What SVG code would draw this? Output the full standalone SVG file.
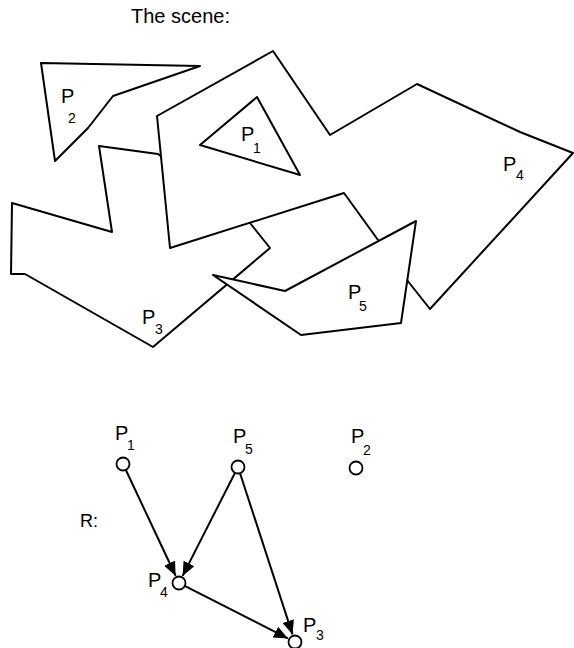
<svg xmlns="http://www.w3.org/2000/svg" width="574" height="648" viewBox="0 0 574 648">
<style>
.poly{fill:#fff;stroke:#000;stroke-width:2;stroke-linejoin:round}
.t{font-family:"Liberation Sans",Arial,sans-serif;font-size:20px;fill:#000}
.s{font-family:"Liberation Sans",Arial,sans-serif;font-size:14px;fill:#000}
.node{fill:#fff;stroke:#000;stroke-width:1.8}
.edge{stroke:#000;stroke-width:2;fill:none;marker-end:url(#ah)}
</style>
<defs>
<marker id="ah" markerUnits="userSpaceOnUse" markerWidth="14" markerHeight="12" refX="14" refY="6" orient="auto">
<path d="M0,0 L14,6 L0,12 z" fill="#000"/>
</marker>
</defs>
<rect width="574" height="648" fill="#fff"/>
<text class="t" x="131" y="23">The scene:</text>
<g id="scene">
<g id="poly-P3">
<polygon class="poly" points="12,203 112,232 99,146 158,154 250,223 270,248 153,347 25,274 11,274"/>
<text class="t" x="142" y="324">P</text><text class="s" x="155" y="334">3</text>
</g>
<g id="poly-P4">
<polygon class="poly" points="157,116 273,51 330,135 417,84 520,132 573,153 430,309 407,280 378,240 344,193 170,248"/>
<text class="t" x="503" y="171">P</text><text class="s" x="516" y="180">4</text>
</g>
<g id="poly-P5">
<polygon class="poly" points="213,275 285,291 416,221 401,323 301,335"/>
<text class="t" x="348" y="299">P</text><text class="s" x="359" y="311">5</text>
</g>
<g id="poly-P1">
<polygon class="poly" points="257,97 200,145 300,175"/>
<text class="t" x="241" y="141">P</text><text class="s" x="253" y="153">1</text>
</g>
<g id="poly-P2">
<polygon class="poly" points="41,63 200,66 113,96 88,128 55,161"/>
<text class="t" x="61" y="103">P</text><text class="s" x="68" y="123">2</text>
</g>
</g>
<text class="t" x="80" y="527" style="font-size:18px">R:</text>
<g id="connectors">
<line class="edge" x1="126" y1="470.3" x2="175.6" y2="575.8"/>
<line class="edge" x1="234.8" y1="473.2" x2="182.6" y2="575.9"/>
<line class="edge" x1="240.2" y1="473.7" x2="292.5" y2="634.4"/>
<line class="edge" x1="185.2" y1="586.2" x2="287.9" y2="638.4"/>
</g>
<g id="node-P1"><circle class="node" cx="123" cy="464" r="6.5"/><text class="t" x="115" y="440">P</text><text class="s" x="127" y="450">1</text></g>
<g id="node-P5"><circle class="node" cx="238" cy="467" r="6.5"/><text class="t" x="233" y="443">P</text><text class="s" x="245" y="454">5</text></g>
<g id="node-P2"><circle class="node" cx="356" cy="468" r="6.5"/><text class="t" x="351" y="443">P</text><text class="s" x="363" y="455">2</text></g>
<g id="node-P4"><circle class="node" cx="179" cy="583" r="6.5"/><text class="t" x="148" y="587">P</text><text class="s" x="160" y="597">4</text></g>
<g id="node-P3"><circle class="node" cx="295" cy="642" r="6.5"/><text class="t" x="303" y="632">P</text><text class="s" x="316" y="640">3</text></g>
</svg>
